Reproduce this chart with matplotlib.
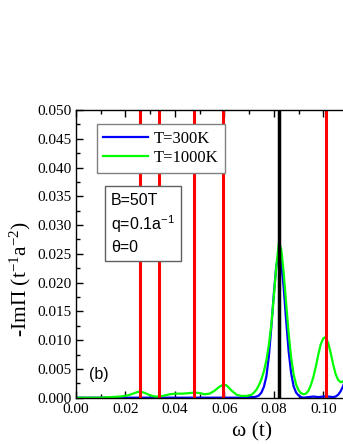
#!/usr/bin/env python3
"""Recreate the -Im Pi vs omega panel (b) with resonance lines."""

import matplotlib

matplotlib.use("Agg")

import matplotlib.pyplot as plt
from matplotlib.ticker import MultipleLocator

plt.rcParams["mathtext.default"] = "regular"

SERIF = "Liberation Serif"
SANS = "Liberation Sans"

# T = 300 K curve
omega_300 = [0.000, 0.060, 0.068, 0.070, 0.072, 0.073, 0.074, 0.075, 0.076, 0.077,
             0.078, 0.079, 0.080, 0.081, 0.0821, 0.083, 0.084, 0.085, 0.086, 0.087,
             0.088, 0.089, 0.090, 0.091, 0.092, 0.094, 0.096, 0.098, 0.100, 0.102,
             0.104, 0.105, 0.106, 0.107, 0.108, 0.109, 0.110]
impi_300 = [0.0000, 0.0000, 0.0000, 0.0001, 0.0001, 0.0002, 0.0004, 0.0009, 0.0019, 0.0037,
            0.0072, 0.0123, 0.0180, 0.0229, 0.0250, 0.0235, 0.0191, 0.0134, 0.0081, 0.0043,
            0.0020, 0.0009, 0.0004, 0.0001, 0.0000, 0.0001, 0.0002, 0.0001, 0.0002, 0.0002,
            0.0001, 0.0002, 0.0005, 0.0011, 0.0020, 0.0032, 0.0045]

# T = 1000 K curve
omega_1000 = [0.000, 0.010, 0.014, 0.018, 0.021, 0.023, 0.025, 0.0265, 0.028, 0.030,
              0.032, 0.034, 0.036, 0.038, 0.040, 0.043, 0.046, 0.048, 0.050, 0.052,
              0.054, 0.056, 0.058, 0.0597, 0.061, 0.063, 0.065, 0.067, 0.069, 0.071,
              0.072, 0.073, 0.074, 0.075, 0.076, 0.077, 0.078, 0.079, 0.080, 0.081,
              0.0821, 0.083, 0.084, 0.085, 0.086, 0.087, 0.088, 0.089, 0.090, 0.091,
              0.092, 0.093, 0.094, 0.095, 0.096, 0.097, 0.098, 0.099, 0.100, 0.1007,
              0.101, 0.102, 0.103, 0.104, 0.105, 0.106, 0.107, 0.108, 0.109, 0.110]
impi_1000 = [0.0000, 0.0000, 0.0001, 0.0002, 0.0004, 0.0007, 0.0010, 0.0010, 0.0008, 0.0004,
             0.0002, 0.0002, 0.0004, 0.0006, 0.0007, 0.0007, 0.0008, 0.0009, 0.0008, 0.0006,
             0.0007, 0.0012, 0.0019, 0.0023, 0.0021, 0.0012, 0.0005, 0.0003, 0.0003, 0.0005,
             0.0009, 0.0014, 0.0022, 0.0032, 0.0046, 0.0065, 0.0092, 0.0127, 0.0175, 0.0228,
             0.0271, 0.0258, 0.0217, 0.0163, 0.0112, 0.0070, 0.0041, 0.0023, 0.0013, 0.0008,
             0.0006, 0.0007, 0.0012, 0.0022, 0.0036, 0.0054, 0.0075, 0.0093, 0.0103, 0.0105,
             0.0104, 0.0095, 0.0078, 0.0058, 0.0041, 0.0031, 0.0027, 0.0028, 0.0035, 0.0045]

# resonance positions
red_lines = [0.0259, 0.0336, 0.0478, 0.0596, 0.1011]
black_line = 0.0820

fig = plt.figure(figsize=(3.43, 4.44), dpi=100)
# axes runs past the right edge of the figure, as in the cropped original
ax = fig.add_axes([0.2216, 0.1043, 0.865, 0.648])

ax.plot(omega_300, impi_300, color="#0000FF", linewidth=1.6, label="T=300K")
ax.plot(omega_1000, impi_1000, color="#00FF00", linewidth=1.6, label="T=1000K")

for x in red_lines:
    ax.axvline(x, color="#FF0000", linewidth=2.2)
ax.axvline(black_line, color="black", linewidth=2.5)

ax.set_xlim(0, 0.12)
ax.set_ylim(0, 0.05)
ax.xaxis.set_major_locator(MultipleLocator(0.02))
ax.xaxis.set_minor_locator(MultipleLocator(0.01))
ax.yaxis.set_major_locator(MultipleLocator(0.005))
ax.yaxis.set_minor_locator(MultipleLocator(0.0025))
# the 0.12 label falls outside the cropped figure, so leave it blank
ax.xaxis.set_major_formatter(plt.FuncFormatter(lambda v, p: f"{v:.2f}" if v < 0.105 else ""))
ax.yaxis.set_major_formatter(plt.FuncFormatter(lambda v, p: f"{v:.3f}"))
ax.tick_params(which="both", direction="in", top=True, right=True, width=1.0)
ax.tick_params(which="major", length=5)
ax.tick_params(which="minor", length=3)
for lab in ax.get_xticklabels() + ax.get_yticklabels():
    lab.set_fontfamily(SERIF)
    lab.set_fontsize(11)
for sp in ax.spines.values():
    sp.set_linewidth(1.0)

ax.set_xlabel("ω (t)", fontfamily=SERIF, fontsize=15.5, va="center")
ax.xaxis.set_label_coords(0.593, -0.118)
ax.set_ylabel("-ImΠ (t$^{-1}$a$^{-2}$)", fontfamily=SERIF, fontsize=15.5, va="center")
ax.yaxis.set_label_coords(-0.188, 0.414)

leg = ax.legend(loc="upper left", bbox_to_anchor=(0.0697, 0.951), borderaxespad=0,
                prop={"family": SERIF, "size": 12}, handlelength=2.7,
                handletextpad=0.3, fancybox=False, edgecolor="#808080",
                framealpha=1, borderpad=0.4, labelspacing=0.2)
leg.get_frame().set_linewidth(1.0)

ax.text(0.118, 0.712, "B=50T\nq=0.1a$^{-1}$\nθ=0", transform=ax.transAxes,
        ha="left", va="top", fontfamily=SANS, fontsize=11.5, linespacing=1.35,
        bbox=dict(boxstyle="square,pad=0.4", fc="white", ec="#606060", lw=1.0))

ax.text(0.043, 0.08, "(b)", transform=ax.transAxes, ha="left", va="center",
        fontfamily=SANS, fontsize=11.5)

fig.savefig("out.png", dpi=100)
